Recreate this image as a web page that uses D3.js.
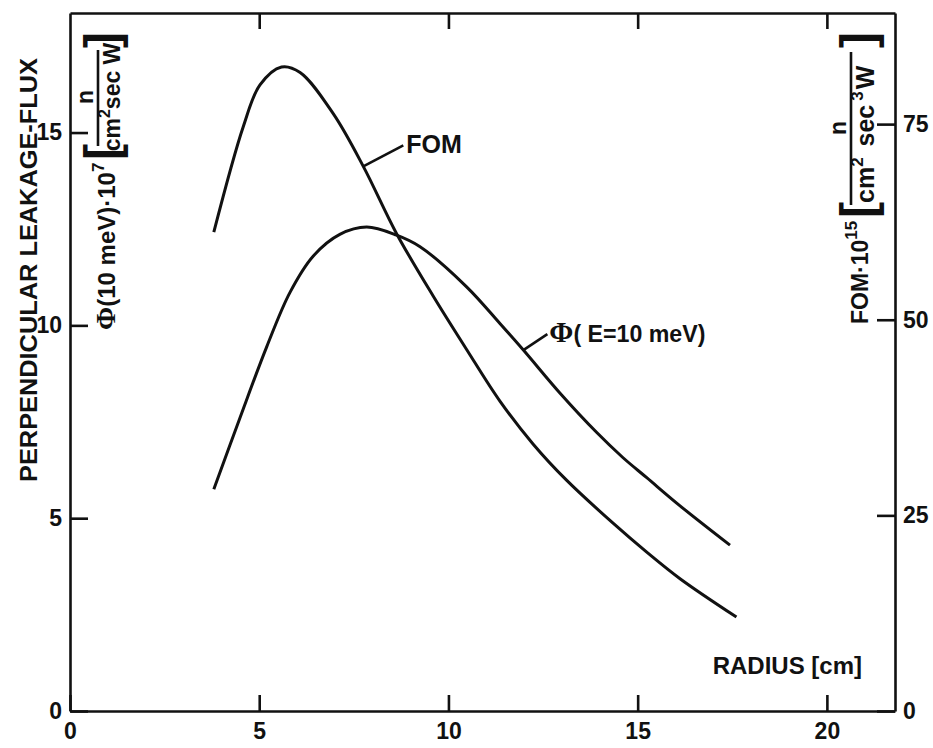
<!doctype html>
<html>
<head>
<style>
  body { margin: 0; background: #fff; }
  svg text { font-family: "Liberation Sans", Arial, sans-serif; font-weight: bold; fill: #111; }
  .axis path, .axis line { stroke: #111; stroke-width: 2.6; }
  .axis text { font-size: 23px; }
  .curve { fill: none; stroke: #111; stroke-width: 3; }
  .phi { font-family: "Liberation Serif", serif; }
</style>
<script src="https://d3js.org/d3.v7.min.js"></script>
</head>
<body>
<svg width="933" height="748"></svg>
<script>
// ticks
var radiusTicks = [0, 5, 10, 15, 20];
var fluxTicks = [0, 5, 10, 15];
var fomTicks = [0, 25, 50, 75];

// phi(E=10 meV) curve, left axis
var phiRadius = [3.80, 4.49, 5.20, 5.81, 6.43, 7.13, 7.84, 8.63, 9.25, 10.48, 11.36, 11.98, 12.95, 13.92, 14.60, 15.24, 16.12, 17.44];
var phiFlux   = [5.75, 7.60, 9.45, 10.85, 11.80, 12.36, 12.55, 12.34, 12.04, 11.0, 10.05, 9.36, 8.24, 7.22, 6.58, 6.05, 5.32, 4.30];

// FOM curve, right axis
var fomRadius = [3.80, 4.58, 5.02, 5.59, 6.08, 6.96, 7.75, 8.63, 9.60, 10.48, 11.36, 12.24, 13.12, 14.35, 15.24, 16.12, 17.61];
var fomValues = [61.2, 74.7, 80.0, 82.3, 81.6, 76.3, 69.6, 61.0, 53.0, 46.2, 39.6, 34.1, 29.5, 24.0, 20.3, 16.9, 12.0];

var svg = d3.select("svg");
var mLeft = 70, mRight = 895, mTop = 13, mBottom = 711;

var x = d3.scaleLinear().domain([0, 21.8]).range([mLeft, mRight]);
var yL = d3.scaleLinear().domain([0, 18.1]).range([mBottom, mTop]);
var yR = d3.scaleLinear().domain([0, 89.2]).range([mBottom, mTop]);

// frame + axes, ticks pointing inward
svg.append("g").attr("class", "axis")
   .attr("transform", "translate(0," + mBottom + ")")
   .call(d3.axisBottom(x).tickValues(radiusTicks).tickSize(-16).tickSizeOuter(0).tickPadding(12));

svg.append("g").attr("class", "axis")
   .attr("transform", "translate(0," + mTop + ")")
   .call(d3.axisTop(x).tickValues(radiusTicks.slice(1)).tickSize(-16).tickSizeOuter(0).tickFormat(""));

svg.append("g").attr("class", "axis")
   .attr("transform", "translate(" + mLeft + ",0)")
   .call(d3.axisLeft(yL).tickValues(fluxTicks).tickSize(-18).tickSizeOuter(0).tickPadding(8));

svg.append("g").attr("class", "axis")
   .attr("transform", "translate(" + mRight + ",0)")
   .call(d3.axisRight(yR).tickValues(fomTicks).tickSize(-18).tickSizeOuter(0).tickPadding(8));

svg.selectAll(".axis text").attr("fill", "#111");

// curves
var phiLine = d3.line()
    .x(function(d, i) { return x(phiRadius[i]); })
    .y(function(d) { return yL(d); })
    .curve(d3.curveCatmullRom);

var fomLine = d3.line()
    .x(function(d, i) { return x(fomRadius[i]); })
    .y(function(d) { return yR(d); })
    .curve(d3.curveCatmullRom);

svg.append("path").attr("class", "curve").attr("d", phiLine(phiFlux));
svg.append("path").attr("class", "curve").attr("d", fomLine(fomValues));

// curve labels with leaders
var fx = x(fomRadius[6]), fy = yR(fomValues[6]);
svg.append("line").attr("x1", fx).attr("y1", fy).attr("x2", fx + 40).attr("y2", fy - 21)
   .attr("stroke", "#111").attr("stroke-width", 2.6);
svg.append("text").attr("x", fx + 43).attr("y", fy - 13).attr("font-size", 25).text("FOM");

var px = x(phiRadius[11]), py = yL(phiFlux[11]);
svg.append("line").attr("x1", px).attr("y1", py).attr("x2", px + 24).attr("y2", py - 16)
   .attr("stroke", "#111").attr("stroke-width", 2.6);
var pl = svg.append("text").attr("x", px + 26).attr("y", py - 8).attr("font-size", 24);
pl.append("tspan").attr("class", "phi").attr("font-size", 29).text("Φ");
pl.append("tspan").attr("textLength", 132).attr("lengthAdjust", "spacingAndGlyphs").text("( E=10 meV)");

// axis title
svg.append("text").attr("x", 862).attr("y", 674).attr("font-size", 24)
   .attr("text-anchor", "end").text("RADIUS [cm]");

// side titles (rotated; local x = -screenY, local y = screenX)
var lt = svg.append("g").attr("transform", "rotate(-90)");
lt.append("text").attr("x", -482).attr("y", 37).attr("font-size", 24)
  .attr("textLength", 424).attr("lengthAdjust", "spacingAndGlyphs")
  .text("PERPENDICULAR LEAKAGE-FLUX");

var l2 = lt.append("text").attr("x", -330).attr("y", 115).attr("font-size", 24);
l2.append("tspan").attr("class", "phi").attr("font-size", 28).text("Φ");
l2.append("tspan").text("(10 meV)·10");
l2.append("tspan").attr("font-size", 17).attr("dy", -11).text("7");
lt.append("text").attr("x", -160).attr("y", 118).attr("font-size", 48).attr("font-weight", "normal").text("[");
lt.append("text").attr("x", -97).attr("y", 93).attr("font-size", 23).attr("text-anchor", "middle").text("n");
lt.append("line").attr("x1", -146).attr("x2", -50).attr("y1", 98).attr("y2", 98)
  .attr("stroke", "#111").attr("stroke-width", 2.6);
var d2 = lt.append("text").attr("x", -97).attr("y", 120).attr("font-size", 23).attr("text-anchor", "middle");
d2.append("tspan").text("cm");
d2.append("tspan").attr("font-size", 16).attr("dy", -10).text("2");
d2.append("tspan").attr("dy", 10).text("sec W");
lt.append("text").attr("x", -48).attr("y", 118).attr("font-size", 48).attr("font-weight", "normal").text("]");

// right title
var r2 = lt.append("text").attr("x", -324).attr("y", 868).attr("font-size", 23);
r2.append("tspan").text("FOM·10");
r2.append("tspan").attr("font-size", 17).attr("dy", -11).text("15");
lt.append("text").attr("x", -218).attr("y", 874).attr("font-size", 48).attr("font-weight", "normal").text("[");
lt.append("text").attr("x", -128).attr("y", 846).attr("font-size", 23).attr("text-anchor", "middle").text("n");
lt.append("line").attr("x1", -205).attr("x2", -52).attr("y1", 851).attr("y2", 851)
  .attr("stroke", "#111").attr("stroke-width", 2.6);
var d3t = lt.append("text").attr("x", -203).attr("y", 874).attr("font-size", 25);
d3t.append("tspan").text("cm");
d3t.append("tspan").attr("font-size", 17).attr("dy", -11).text("2");
d3t.append("tspan").attr("dy", 11).attr("dx", 4).text(" sec");
d3t.append("tspan").attr("font-size", 17).attr("dy", -11).attr("dx", 4).text("3");
d3t.append("tspan").attr("dy", 11).attr("dx", 2).text("W");
lt.append("text").attr("x", -48).attr("y", 874).attr("font-size", 48).attr("font-weight", "normal").text("]");
</script>
</body>
</html>
